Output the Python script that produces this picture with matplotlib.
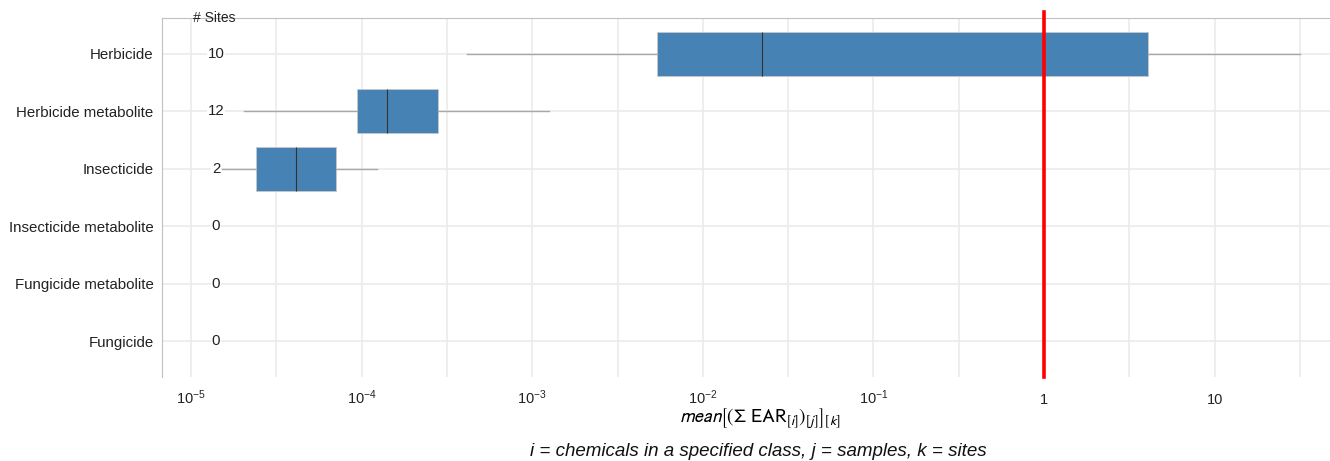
import numpy as np
import matplotlib
matplotlib.use('Agg')
import matplotlib.pyplot as plt
from matplotlib.ticker import FixedLocator

plt.rcParams['font.family'] = ['Liberation Sans', 'DejaVu Sans']
plt.rcParams['mathtext.fontset'] = 'custom'
plt.rcParams['mathtext.rm'] = 'Liberation Sans'
plt.rcParams['mathtext.it'] = 'Liberation Sans:italic'
plt.rcParams['mathtext.bf'] = 'Liberation Sans:bold'

# data (EAR values)
categories = ['Herbicide', 'Herbicide metabolite', 'Insecticide',
              'Insecticide metabolite', 'Fungicide metabolite', 'Fungicide']
n_sites = [10, 12, 2, 0, 0, 0]
whislo = [4.15e-4, 2.05e-5, 1.52e-5]
q1 = [5.4e-3, 9.4e-5, 2.4e-5]
med = [2.22e-2, 1.41e-4, 4.12e-5]
q3 = [4.07, 2.8e-4, 7.08e-5]
whishi = [31.7, 1.26e-3, 1.23e-4]
threshold = 1.0

tick_vals = [1e-5, 1e-4, 1e-3, 1e-2, 1e-1, 1, 10]
tick_labels = [r'$10^{-5}$', r'$10^{-4}$', r'$10^{-3}$', r'$10^{-2}$',
               r'$10^{-1}$', '1', '10']

fig = plt.figure(figsize=(13.3, 4.61), dpi=100)
ax = fig.add_axes([162 / 1330, 1 - 377 / 461, 1 - 162 / 1330, (377 - 18) / 461])

stats = []
for i in range(len(whislo)):
    stats.append({'whislo': whislo[i], 'q1': q1[i], 'med': med[i],
                  'q3': q3[i], 'whishi': whishi[i], 'fliers': []})

ax.bxp(stats, positions=range(len(stats)), vert=False, widths=0.76,
       patch_artist=True, showcaps=False, showfliers=False,
       boxprops=dict(facecolor='#4682B4', edgecolor='#c8c8c8', linewidth=0.6),
       medianprops=dict(color='#333333', linewidth=0.8),
       whiskerprops=dict(color='#a8a8a8', linewidth=1.0), zorder=3)

ax.set_xscale('log')
ax.set_xlim(10 ** -5.17, 10 ** 1.676)
ax.set_ylim(len(categories) - 1 + 0.62, -0.62)

ax.set_yticks(range(len(categories)))
ax.set_yticklabels(categories, fontsize=10.8, color='#222222')
ax.xaxis.set_major_locator(FixedLocator(tick_vals))
ax.set_xticklabels(tick_labels, fontsize=10.5, color='#222222')
for lab in ax.get_xticklabels():
    lab.set_verticalalignment('baseline')
ax.xaxis.set_minor_locator(FixedLocator([10 ** (k + 0.5) for k in range(-6, 2)]))
ax.tick_params(axis='both', which='both', length=0)
ax.tick_params(axis='x', pad=19.5)
ax.tick_params(axis='y', pad=6)

ax.grid(True, which='major', axis='both', color='#ebebeb', linewidth=1.2, zorder=0)
ax.grid(True, which='minor', axis='x', color='#ebebeb', linewidth=1.2, zorder=0)
ax.set_axisbelow(True)

for side in ['right', 'bottom']:
    ax.spines[side].set_visible(False)
for side in ['left', 'top']:
    ax.spines[side].set_color('#c0c0c0')
    ax.spines[side].set_linewidth(0.8)

ax.axvline(threshold, ymin=0, ymax=1.017, color='red', linewidth=2.6,
           clip_on=False, zorder=5)

# number of sites column
x_sites = 10 ** -4.853
for i, n in enumerate(n_sites):
    ax.text(x_sites, i, str(n), ha='center', va='center', fontsize=10.8,
            color='#222222', zorder=4,
            bbox=dict(facecolor='white', edgecolor='none', pad=0.5))
ax.text(10 ** -4.99, -0.62, '# Sites', ha='left', va='center', fontsize=10,
        color='#222222', clip_on=False)

fig.text(760 / 1330, 1 - 419 / 461,
         r'$\mathit{mean}\left[\left(\Sigma\ \mathrm{EAR}_{[i]}\right)_{[j]}\right]_{[k]}$',
         ha='center', va='center', fontsize=14, math_fontfamily='stixsans')
fig.text(758 / 1330, 1 - 451 / 461,
         'i = chemicals in a specified class, j = samples, k = sites',
         ha='center', va='center', fontsize=13.5, style='italic', color='#111111')

fig.savefig('out.png', dpi=100)
